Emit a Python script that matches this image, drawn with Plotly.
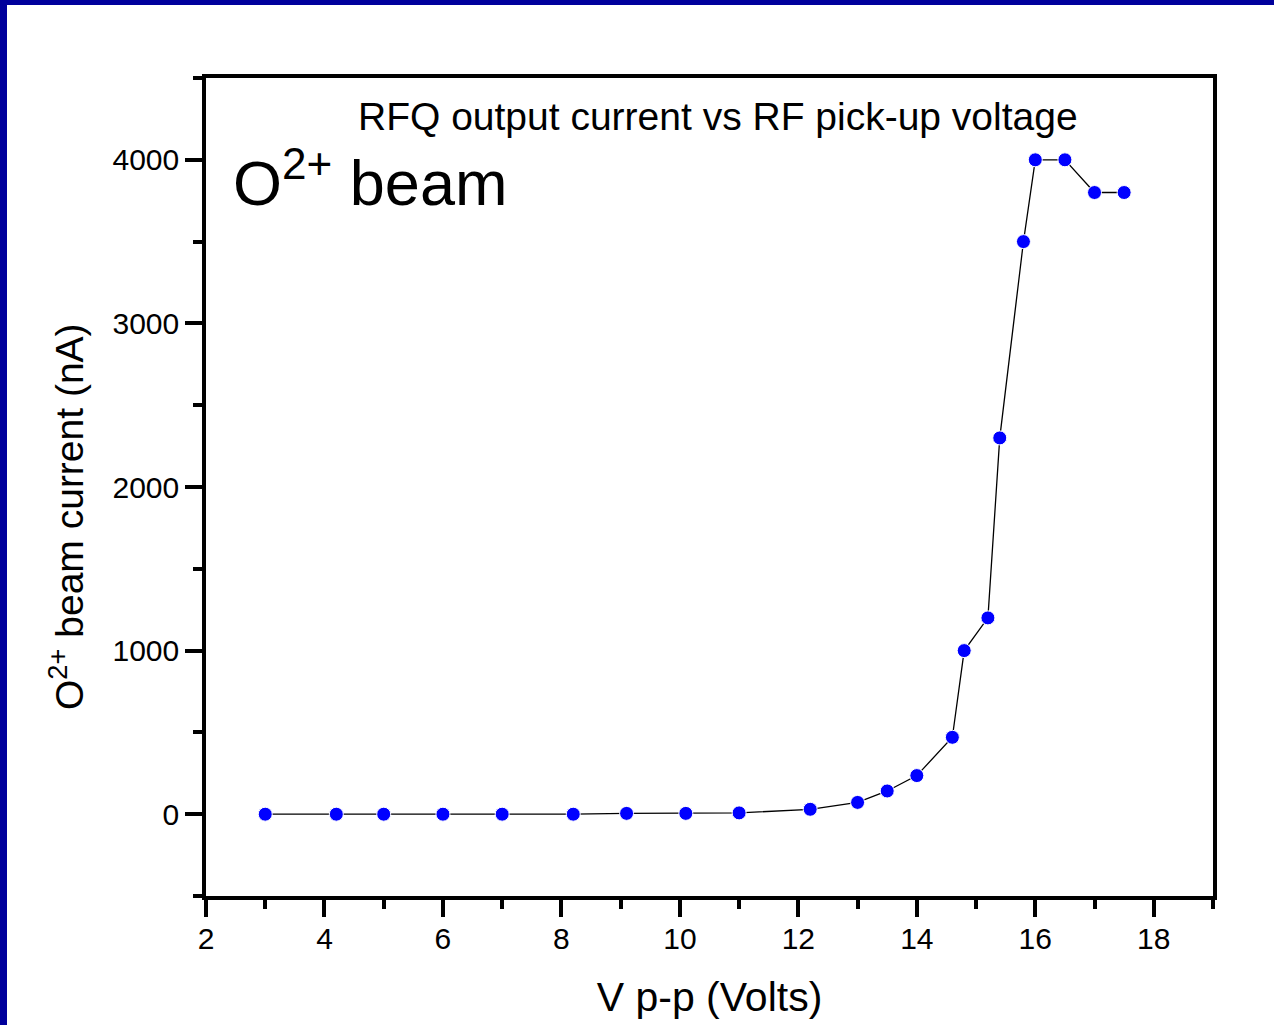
import plotly.graph_objects as go

# Data
v_pp = [3.0, 4.2, 5.0, 6.0, 7.0, 8.2, 9.1, 10.1, 11.0, 12.2, 13.0, 13.5, 14.0,
        14.6, 14.8, 15.2, 15.4, 15.8, 16.0, 16.5, 17.0, 17.5]
current_nA = [0, 0, 0, 0, 0, 0, 5, 5, 8, 30, 72, 142, 236, 470, 1000, 1200,
              2300, 3500, 4000, 4000, 3800, 3800]

x_ticks = [2, 4, 6, 8, 10, 12, 14, 16, 18]
y_ticks = [0, 1000, 2000, 3000, 4000]

W, H = 1274, 1025
L, R, T, B = 206, 61, 78, 129
pw, ph = W - L - R, H - T - B


def px(xp):
    return (xp - L) / pw


def py(yp):
    return (H - B - yp) / ph


FONT = "Liberation Sans, Arial, sans-serif"

fig = go.Figure()
fig.add_trace(go.Scatter(
    x=v_pp, y=current_nA, mode="lines+markers",
    line=dict(color="black", width=1.3),
    marker=dict(color="#0000FF", size=14, line=dict(color="white", width=1)),
    showlegend=False,
))

axis_font = dict(family=FONT, size=30, color="black")

fig.update_xaxes(
    range=[2, 19], tickvals=x_ticks, ticks="outside", ticklen=17, tickwidth=3.5,
    tickcolor="black", showline=True, linewidth=3.5, linecolor="black", mirror=True,
    showgrid=False, zeroline=False, tickfont=axis_font, ticklabelstandoff=-4,
    minor=dict(dtick=1, tick0=2, ticks="outside", ticklen=9, tickwidth=3.5,
               tickcolor="black", showgrid=False),
    title=dict(text="V p-p (Volts)", standoff=30,
               font=dict(family=FONT, size=41, color="black")),
    automargin=False,
)
fig.update_yaxes(
    range=[-500, 4500], tickvals=y_ticks, ticks="outside", ticklen=17, tickwidth=3.5,
    tickcolor="black", showline=True, linewidth=3.5, linecolor="black", mirror=True,
    showgrid=False, zeroline=False, tickfont=axis_font,
    minor=dict(dtick=500, tick0=0, ticks="outside", ticklen=9, tickwidth=3.5,
               tickcolor="black", showgrid=False),
    automargin=False,
)

border = "#00009C"
fig.update_layout(
    width=W, height=H,
    margin=dict(l=L, r=R, t=T, b=B),
    paper_bgcolor="white", plot_bgcolor="white",
    shapes=[
        dict(type="rect", xref="paper", yref="paper", layer="above",
             x0=px(0), x1=px(7), y0=py(H), y1=py(0),
             fillcolor=border, line=dict(width=0)),
        dict(type="rect", xref="paper", yref="paper", layer="above",
             x0=px(0), x1=px(W), y0=py(5), y1=py(0),
             fillcolor=border, line=dict(width=0)),
    ],
    annotations=[
        dict(text="RFQ output current vs RF pick-up voltage", xref="paper", yref="paper",
             x=px(718), y=py(117), xanchor="center", yanchor="middle", showarrow=False,
             font=dict(family=FONT, size=39, color="black")),
        dict(text="O<sup>2+</sup> beam", xref="paper", yref="paper",
             x=px(231), y=py(178), xanchor="left", yanchor="middle", showarrow=False,
             font=dict(family=FONT, size=63, color="black")),
        dict(text="O<sup>2+</sup> beam current (nA)", xref="paper", yref="paper",
             x=px(66), y=py(517), xanchor="center", yanchor="middle", showarrow=False,
             textangle=-90, font=dict(family=FONT, size=39, color="black")),
    ],
)

fig.write_html("out.html")
